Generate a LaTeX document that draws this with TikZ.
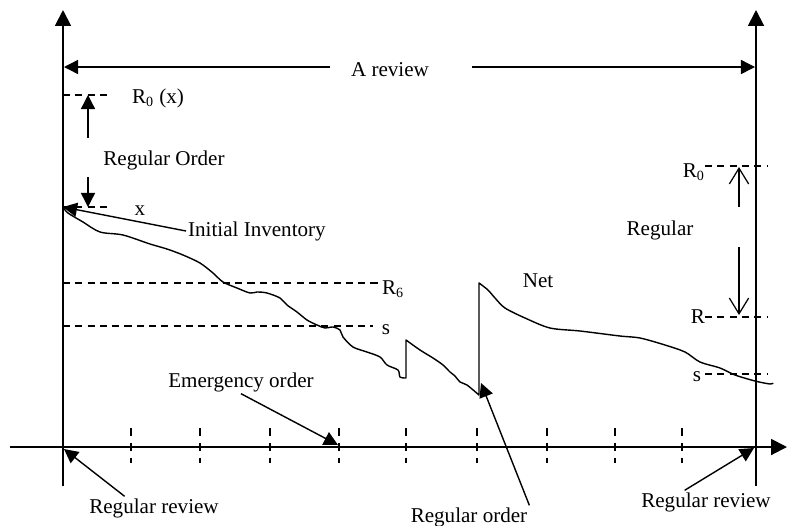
\documentclass[tikz,border=0pt]{standalone}
\usepackage{fontspec}
\setmainfont{Liberation Serif}
\usetikzlibrary{arrows.meta, calc, positioning}
\tikzset{
    axisLine/.style={-{Triangle[length=9pt, width=9pt]}, line width=1.1pt},
    levelLine/.style={dash pattern=on 4pt off 3pt, line width=0.6pt},
    tickLine/.style={dash pattern=on 4.5pt off 4pt, line width=0.6pt},
    callout/.style={-{Triangle[length=8pt, width=8pt]}, line width=0.8pt},
    openArrow/.style={-{Straight Barb[length=9pt, width=11pt]}, line width=0.7pt},
    invCurve/.style={line width=0.8pt, line join=round},
    lbl/.style={font=\fontsize{12}{14}\selectfont, inner sep=1pt},
}
\newcommand{\drawLevel}[2]{
    \draw[levelLine] (#1) -- (#2);
}
\begin{document}
\begin{tikzpicture}[x=0.02cm, y=-0.02cm]
        \useasboundingbox (0,0) rectangle (787,525);

        % axes
        \coordinate (hStart) at (10,447);
        \coordinate (hEnd) at (787,447);
        \coordinate (leftFoot) at (63,486);
        \coordinate (leftTop) at (63,10);
        \coordinate (rightFoot) at (756,486);
        \coordinate (rightTop) at (756,10);
        \draw[axisLine] (hStart) -- (hEnd);
        \draw[axisLine] (leftFoot) -- (leftTop);
        \draw[axisLine] (rightFoot) -- (rightTop);

        \foreach \tx in {131,200,270,339,406,477,547,615,682}
            \draw[tickLine] (\tx,428) -- (\tx,463);

        % review period
        \node[lbl] (review) at (390,70) {A review};
        \coordinate (spanL) at (330,67);
        \coordinate (spanLTip) at (64,67);
        \coordinate (spanR) at (472,67);
        \coordinate (spanRTip) at (755,67);
        \draw[callout] (spanL) -- (spanLTip);
        \draw[callout] (spanR) -- (spanRTip);

        % levels, left side
        \coordinate (ro0) at (63,95);   \coordinate (ro1) at (112,95);
        \coordinate (x0) at (63,207);   \coordinate (x1) at (110,207);
        \coordinate (rs0) at (63,283);  \coordinate (rs1) at (378,283);
        \coordinate (s0) at (63,326);   \coordinate (s1) at (373,326);
        \drawLevel{ro0}{ro1}
        \drawLevel{x0}{x1}
        \drawLevel{rs0}{rs1}
        \drawLevel{s0}{s1}
        \node[lbl, anchor=west] (roLbl) at (130,98) {R\textsubscript{0} (x)};
        \node[lbl] (xLbl) at (140,211) {x};
        \node[lbl, anchor=west] (rsLbl) at (380,289) {R\textsubscript{6}};
        \node[lbl] (sLbl) at (386,330) {s};

        \node[lbl] (regOrder) at (164,160) {Regular Order};
        \coordinate (upFrom) at (88,138);  \coordinate (upTo) at (88,95);
        \coordinate (dnFrom) at (88,177);  \coordinate (dnTo) at (88,207);
        \draw[callout] (upFrom) -- (upTo);
        \draw[callout] (dnFrom) -- (dnTo);

        \node[lbl, anchor=west] (initInv) at (186,231) {Initial Inventory};
        \draw[callout] (initInv.west) -- (x0);

        % levels, right side
        \coordinate (rr0) at (705,166);  \coordinate (rr1) at (767,166);
        \coordinate (r0) at (705,317);   \coordinate (r1) at (768,317);
        \coordinate (rsa) at (705,374);  \coordinate (rsb) at (768,374);
        \drawLevel{rr0}{rr1}
        \drawLevel{r0}{r1}
        \drawLevel{rsa}{rsb}
        \node[lbl, anchor=east] (rrLbl) at (707,172) {R\textsubscript{0}};
        \node[lbl, anchor=east] (rLbl) at (707,317) {R};
        \node[lbl] (sRLbl) at (697,377) {s};

        \node[lbl] (regRight) at (660,230) {Regular};
        \coordinate (rUpFrom) at (739,207);  \coordinate (rUpTo) at (739,167);
        \coordinate (rDnFrom) at (739,247);  \coordinate (rDnTo) at (739,315);
        \draw[openArrow] (rUpFrom) -- (rUpTo);
        \draw[openArrow] (rDnFrom) -- (rDnTo);

        \node[lbl] (net) at (538,281) {Net};

        % inventory curve
        \draw[invCurve] plot[smooth, tension=0.5] coordinates {
            (63,207) (68,213) (83,222) (100,232) (123,235) (150,244) (167,249)
            (183,255) (200,263) (213,273) (223,282) (237,288) (250,293) (257,292)
            (267,293) (280,298) (287,305) (297,312) (307,320) (317,325) (325,328)
            (333,327) (340,330) (343,337) (353,347) (367,352) (380,357) (387,365)
            (398,370) (400,377) (406,378)}
            -- plot[smooth, tension=0.5] coordinates {
            (406,340) (420,350) (433,358) (443,365) (450,372) (455,376) (460,382)
            (467,385) (479,395)}
            -- plot[smooth, tension=0.5] coordinates {
            (479,283) (488,290) (495,298) (505,308) (525,318) (550,328) (580,331)
            (620,336) (640,338) (665,345) (685,352) (700,362) (720,368) (735,375)
            (755,381) (770,384) (773,383)};

        % callouts on the time axis
        \node[lbl] (emerg) at (241,382) {Emergency order};
        \coordinate (emergTip) at (338,445);
        \draw[callout] (emerg.south) -- (emergTip);

        \node[lbl] (reviewL) at (154,508) {Regular review};
        \coordinate (reviewLTip) at (64,449);
        \draw[callout] ($(reviewL.north west)!0.28!(reviewL.north east)$) -- (reviewLTip);

        \node[lbl] (reviewR) at (706,502) {Regular review};
        \coordinate (reviewRTip) at (754,448);
        \draw[callout] ($(reviewR.north west)!0.34!(reviewR.north east)$) -- (reviewRTip);

        \node[lbl] (regOrd) at (469,517) {Regular order};
        \coordinate (regOrdTip) at (481,383);
        \draw[callout] (regOrd.north east) -- (regOrdTip);

    \end{tikzpicture}
\end{document}
